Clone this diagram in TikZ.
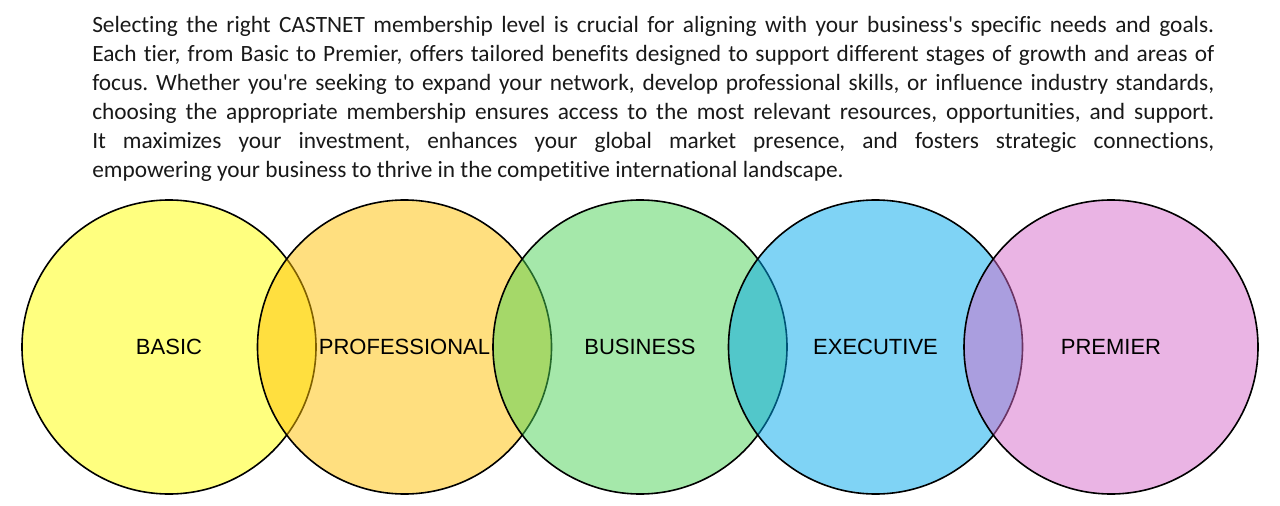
\documentclass[tikz,border=0pt]{standalone}
\usepackage{fontspec}
\setmainfont{Carlito}[Ligatures=TeX, RawFeature={-liga;-clig;-calt}]
\newfontfamily\tierfont{Liberation Sans}
\usepackage{xcolor}
\definecolor{basicyellow}{RGB}{255,255,0}
\definecolor{profgold}{RGB}{255,192,0}
\definecolor{busgreen}{RGB}{75,209,85}
\definecolor{execblue}{RGB}{0,168,236}
\definecolor{premierpink}{RGB}{213,105,201}

\begin{document}
\begin{tikzpicture}[x=0.75pt, y=-0.75pt]
          \tikzset{
            TierStyle/.style = { circle, draw = black, line width = 1.2pt,
              minimum size = 220.5pt, inner sep = 0pt,
              fill opacity = 0.5, text opacity = 1,
              font = \tierfont\fontsize{16.5}{20}\selectfont, text = black },
            IntroStyle/.style = { anchor = north west, inner sep = 0pt,
              text width = 841.5pt, align = justify, text = black!90,
              font = \fontsize{17.5}{21.75}\selectfont } }
          \useasboundingbox (0,0) rectangle (1280,506);

          % \node[draw] (INTRO) at (640,95) {...};
          \node[IntroStyle] (INTRO) at (92,16) {\hyphenpenalty=10000 \frenchspacing
            Selecting the right CASTNET membership level is crucial for aligning with your business\textquotesingle s specific needs and goals.\linebreak
            Each tier, from Basic to Premier, offers tailored benefits designed to support different stages of growth and areas of\linebreak
            focus. Whether you\textquotesingle re seeking to expand your network, develop professional skills, or influence industry standards,\linebreak
            choosing the appropriate membership ensures access to the most relevant resources, opportunities, and support.\linebreak
            It maximizes your investment, enhances your global market presence, and fosters strategic connections,\linebreak
            empowering your business to thrive in the competitive international landscape.};

          \node[TierStyle, fill=basicyellow] (BASIC) at (169,347) {BASIC};
          \node[TierStyle, fill=profgold] (PROFESSIONAL) at (404.5,347) {PROFESSIONAL};
          \node[TierStyle, fill=busgreen] (BUSINESS) at (640,347) {BUSINESS};
          \node[TierStyle, fill=execblue] (EXECUTIVE) at (875.5,347) {EXECUTIVE};
          \node[TierStyle, fill=premierpink] (PREMIER) at (1111,347) {PREMIER};
\end{tikzpicture}
\end{document}
